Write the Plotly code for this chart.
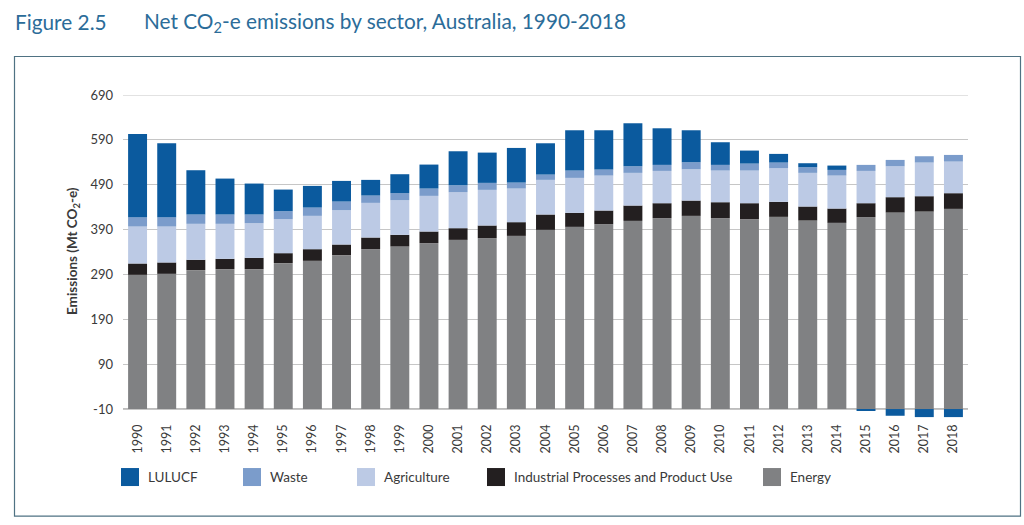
import plotly.graph_objects as go

# ---------------- data (Mt CO2-e) ----------------
years = [str(y) for y in range(1990, 2019)]
energy = [289.2, 291.4, 299.6, 301.8, 301.8, 315.2, 320.4, 333.0, 346.3, 352.3,
          359.7, 367.1, 370.8, 376.0, 389.4, 396.1, 402.0, 409.4, 415.4, 420.6,
          415.4, 413.2, 418.4, 410.2, 405.0, 417.6, 428.0, 430.2, 436.2]
ippu = [25.2, 25.3, 23.0, 23.0, 25.2, 22.2, 25.9, 23.7, 26.0, 26.0,
        26.0, 26.0, 28.3, 30.5, 34.2, 31.2, 30.5, 34.2, 33.4, 34.1,
        35.6, 35.6, 33.4, 31.2, 31.9, 31.2, 34.2, 34.2, 34.9]
agriculture = [82.4, 80.1, 80.2, 78.0, 77.3, 75.8, 74.3, 76.5, 77.2, 77.2,
               79.4, 80.2, 79.4, 75.0, 77.2, 77.9, 77.9, 72.8, 72.0, 69.8,
               70.6, 72.8, 74.9, 75.0, 73.5, 72.0, 69.0, 75.0, 70.5]
waste = [20.8, 20.8, 20.8, 20.8, 19.3, 17.8, 18.5, 19.3, 16.4, 15.6,
         16.4, 15.6, 15.6, 13.3, 11.8, 16.4, 13.4, 14.8, 13.4, 15.6,
         12.6, 15.5, 12.7, 12.6, 12.6, 13.4, 14.1, 14.1, 14.8]
lulucf = [185.6, 164.8, 98.7, 80.1, 69.0, 48.2, 48.3, 46.0, 34.9, 42.3,
          53.4, 75.7, 67.5, 77.2, 69.8, 89.8, 87.6, 95.8, 81.6, 71.3,
          50.5, 29.0, 19.3, 8.9, 9.7, -4.0, -15.0, -18.0, -18.0]

y_tick_values = [-10, 90, 190, 290, 390, 490, 590, 690]
axis_cross, axis_max = -10, 690   # bars grow from the axis crossing (-10), Excel style
axis_floor = -30                  # extra room below the crossing for negative LULUCF

series_names = ["LULUCF", "Waste", "Agriculture", "Industrial Processes and Product Use", "Energy"]
colors = {
    "LULUCF": "#0b5a9e",
    "Waste": "#7b9ccb",
    "Agriculture": "#bccae5",
    "Industrial Processes and Product Use": "#231f20",
    "Energy": "#808183",
}

# ---------------- geometry helpers (layout only) ----------------
W, H = 1024, 525
PX_PER_UNIT = (409 - 95) / (axis_max - axis_cross)
PL, PR, PT = 123, 968, 95
PB = 409 + (axis_cross - axis_floor) * PX_PER_UNIT   # plot bottom in px


def fx(x):
    return (x - PL) / (PR - PL)


def fy(y):
    return (PB - y) / (PB - PT)


# ---------------- stacked bars (explicit bases) ----------------
n = len(years)
e_base = [axis_cross] * n
e_h = [energy[i] - axis_cross for i in range(n)]
i_base = energy[:]
a_base = [energy[i] + ippu[i] for i in range(n)]
w_base = [a_base[i] + agriculture[i] for i in range(n)]
top = [w_base[i] + waste[i] for i in range(n)]
l_base = [top[i] if lulucf[i] >= 0 else axis_cross for i in range(n)]

fig = go.Figure()


def add(name, y, base):
    fig.add_trace(go.Bar(
        x=years, y=y, base=base, name=name,
        marker=dict(color=colors[name], line=dict(width=0)),
        width=0.65, showlegend=False,
        hovertemplate=name + " %{x}: %{y}<extra></extra>",
    ))


add("Energy", e_h, e_base)
add("Industrial Processes and Product Use", ippu, i_base)
add("Agriculture", agriculture, a_base)
add("Waste", waste, w_base)
add("LULUCF", lulucf, l_base)

# ---------------- layout ----------------
FONT = "Lato, 'Noto Sans', sans-serif"
tick_font = dict(family=FONT, size=12.5, color="#3a3a3a")

fig.update_layout(
    width=W, height=H,
    margin=dict(l=PL, r=W - PR, t=PT, b=H - PB, autoexpand=False),
    paper_bgcolor="white", plot_bgcolor="white",
    barmode="overlay",
    showlegend=False,
    xaxis=dict(
        type="category", tickangle=-90, tickfont=tick_font,
        showgrid=False, ticks="", showline=False, zeroline=False,
        ticklabelstandoff=int(round(12 - (PB - 409))), automargin=False,
    ),
    yaxis=dict(
        range=[axis_floor, axis_max], tickvals=y_tick_values,
        ticktext=[str(v) for v in y_tick_values],
        tickfont=dict(family=FONT, size=13, color="#3a3a3a"),
        showgrid=True, gridcolor="#c6c6c6", gridwidth=1,
        zeroline=False, showline=False, ticks="", ticklabelstandoff=9,
        automargin=False,
    ),
)

shapes = []
annotations = []

# outer frame
shapes.append(dict(type="rect", xref="paper", yref="paper",
                   x0=fx(14.5), x1=fx(1020.5), y0=fy(516), y1=fy(56.5),
                   line=dict(color="#4f7283", width=1.2), fillcolor="rgba(0,0,0,0)",
                   layer="below"))
# baseline at axis crossing (-10)
shapes.append(dict(type="line", xref="paper", yref="y", x0=0, x1=1,
                   y0=axis_cross, y1=axis_cross, line=dict(color="#a6a6a6", width=1.5),
                   layer="below"))
# top grid line at 690
shapes.append(dict(type="line", xref="paper", yref="y", x0=0, x1=1,
                   y0=axis_max, y1=axis_max, line=dict(color="#c6c6c6", width=1),
                   layer="below"))

# title
title_color = "#2b6c99"
annotations.append(dict(text="Figure 2.5", xref="paper", yref="paper",
                        x=fx(13), y=fy(22), xanchor="left", yanchor="middle",
                        showarrow=False,
                        font=dict(family=FONT, size=20.8, color=title_color)))
annotations.append(dict(text="Net CO<sub>2</sub>-e emissions by sector, Australia, 1990-2018",
                        xref="paper", yref="paper",
                        x=fx(142), y=fy(22), xanchor="left", yanchor="middle",
                        showarrow=False,
                        font=dict(family=FONT, size=20.8, color=title_color)))

# y-axis title
annotations.append(dict(text="<b>Emissions (Mt CO<sub>2</sub>-e)</b>", xref="paper", yref="paper",
                        x=fx(73), y=fy(251), xanchor="center", yanchor="middle",
                        textangle=-90, showarrow=False,
                        font=dict(family=FONT, size=13.5, color="#3a3a3a")))

# manual legend (large square keys as in the reference)
legend_x = {"LULUCF": 121, "Waste": 243, "Agriculture": 357,
            "Industrial Processes and Product Use": 487, "Energy": 763}
for name in series_names:
    x0 = legend_x[name]
    shapes.append(dict(type="rect", xref="paper", yref="paper",
                       x0=fx(x0), x1=fx(x0 + 18), y0=fy(486), y1=fy(468),
                       line=dict(width=0), fillcolor=colors[name]))
    annotations.append(dict(text=name, xref="paper", yref="paper",
                            x=fx(x0 + 25), y=fy(477), xanchor="left", yanchor="middle",
                            showarrow=False,
                            font=dict(family=FONT, size=13.5, color="#3a3a3a")))

fig.update_layout(shapes=shapes, annotations=annotations)

fig.write_html("out.html")
